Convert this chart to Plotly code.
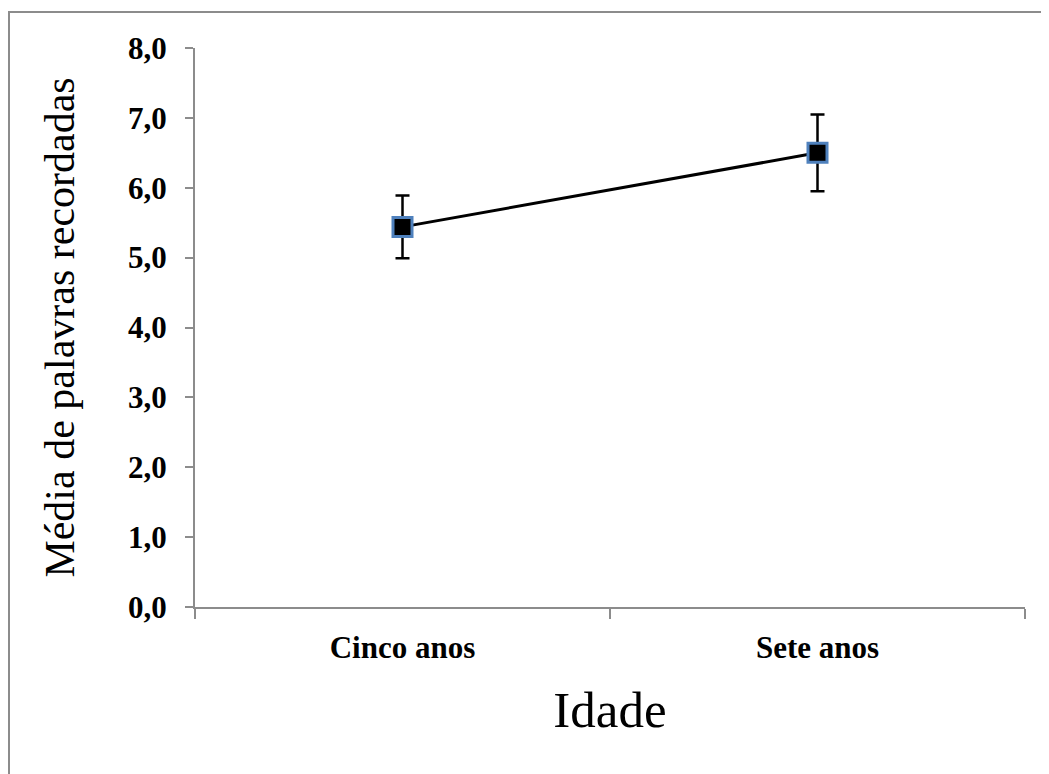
import plotly.graph_objects as go

categories = ["Cinco anos", "Sete anos"]
means = [5.44, 6.50]
errors = [0.45, 0.55]
y_ticks = [0, 1, 2, 3, 4, 5, 6, 7, 8]
y_tick_labels = ["0,0", "1,0", "2,0", "3,0", "4,0", "5,0", "6,0", "7,0", "8,0"]

# page has an 8px body margin; compensate so the plot area lands at 195..1025 x 48..607
OFF = 8
W, H = 1049, 774
L, R, T, B = 195 - OFF, 1049 - 1025 + OFF, 48 - OFF, 774 - 607 + OFF
pw, ph = W - L - R, H - T - B

fig = go.Figure()
fig.add_trace(go.Scatter(
    x=categories, y=means, mode="lines+markers",
    line=dict(color="black", width=3),
    marker=dict(symbol="square", size=19, color="black",
                line=dict(color="#4F81BD", width=3)),
    error_y=dict(type="data", array=errors, visible=True,
                 color="black", thickness=2.5, width=7),
    showlegend=False,
))

def px2paper_x(p):
    return (p - OFF - L) / pw

def px2paper_y(p):
    return (H - B - (p - OFF)) / ph

fig.add_shape(type="rect", xref="paper", yref="paper",
              x0=px2paper_x(9), x1=px2paper_x(1070),
              y0=px2paper_y(800), y1=px2paper_y(12),
              line=dict(color="#8c8c8c", width=2), fillcolor="rgba(0,0,0,0)",
              layer="below")

fig.update_layout(
    width=W, height=H,
    margin=dict(l=L, r=R, t=T, b=B),
    paper_bgcolor="white", plot_bgcolor="white",
    font=dict(family="Liberation Serif", color="black"),
    xaxis=dict(
        type="category", range=[-0.5, 1.5], tickson="boundaries",
        ticks="outside", ticklen=10, tickwidth=2, tickcolor="#8c8c8c",
        showline=True, linecolor="#8c8c8c", linewidth=2,
        showgrid=False, zeroline=False, ticklabelstandoff=12,
        tickfont=dict(family="Liberation Serif", size=31, color="black", weight="bold"),
        title=dict(text="Idade", font=dict(family="Liberation Serif", size=51, color="black"),
                   standoff=27),
    ),
    yaxis=dict(
        range=[0, 8], tickvals=y_ticks, ticktext=y_tick_labels,
        ticks="outside", ticklen=8, tickwidth=2, tickcolor="#8c8c8c",
        showline=True, linecolor="#8c8c8c", linewidth=2,
        showgrid=False, zeroline=False, ticklabelstandoff=12,
        tickfont=dict(family="Liberation Serif", size=31, color="black", weight="bold"),
        title=dict(text="Média de palavras recordadas",
                   font=dict(family="Liberation Serif", size=42, color="black"),
                   standoff=40),
    ),
)

fig.write_html("out.html")
